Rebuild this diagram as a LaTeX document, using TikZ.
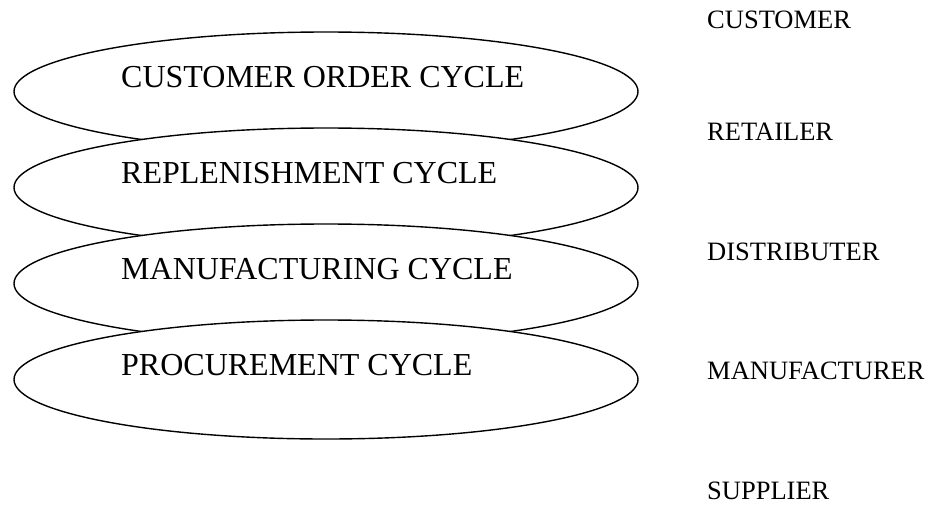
\documentclass[tikz,border=0pt]{standalone}
\usepackage{fontspec}
\setmainfont{Liberation Serif}
\usetikzlibrary{shapes.geometric}
\tikzset{
    cycleshape/.style={ellipse, draw, fill=white, line width=1.4pt, minimum width=624pt, minimum height=119pt, inner sep=0pt},
    cyclename/.style={anchor=base west, inner sep=0pt, font=\fontsize{32}{36}\selectfont},
    stagename/.style={anchor=base west, inner sep=0pt, font=\fontsize{26.5}{30}\selectfont}
}
\begin{document}
\begin{tikzpicture}[x=1pt, y=-1pt]
    \useasboundingbox (0,0) rectangle (932,504);
    % cycles
    \node[cycleshape] (order) at (326,91.5) {};
    \node[cyclename] (ordertext) at (121,87) {CUSTOMER ORDER CYCLE};
    \node[cycleshape] (replenish) at (326,187.5) {};
    \node[cyclename] (replenishtext) at (121,183) {REPLENISHMENT CYCLE};
    \node[cycleshape] (manufact) at (326,283.5) {};
    \node[cyclename] (manufacttext) at (121,279) {MANUFACTURING CYCLE};
    \node[cycleshape] (procure) at (326,379.5) {};
    \node[cyclename] (procuretext) at (121,375) {PROCUREMENT CYCLE};
    % stages
    \node[stagename] (customer) at (707,28) {CUSTOMER};
    \node[stagename] (retailer) at (707,140) {RETAILER};
    \node[stagename] (distributer) at (707,260) {DISTRIBUTER};
    \node[stagename] (manufacturer) at (707,379) {MANUFACTURER};
    \node[stagename] (supplier) at (707,499) {SUPPLIER};
\end{tikzpicture}
\end{document}
